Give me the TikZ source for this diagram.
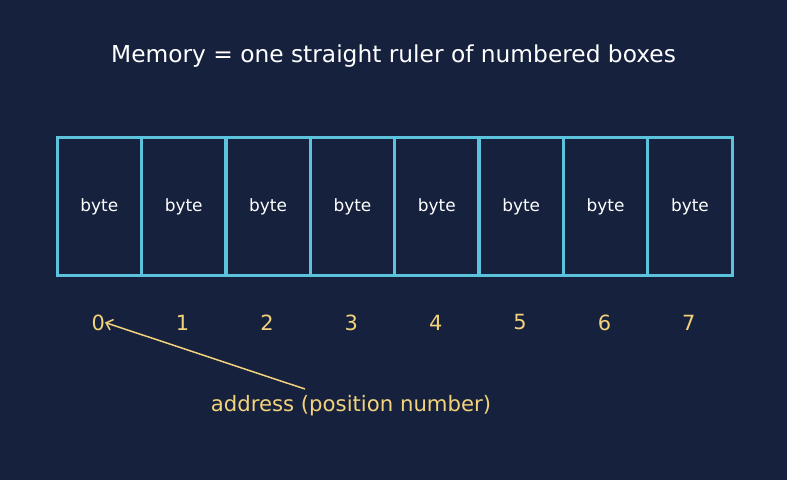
\documentclass[tikz,border=0pt]{standalone}
\usepackage{fontspec}
\setmainfont{DejaVu Sans}
\usetikzlibrary{arrows.meta}
\definecolor{bg}{HTML}{16213E}
\definecolor{cellline}{HTML}{5BC3DC}
\definecolor{numcol}{HTML}{F2D27A}
\tikzset{
  cell/.style={draw=cellline, line width=3.3bp, minimum width=84.375bp, minimum height=138bp, inner sep=0pt, anchor=north west, text=white, font=\fontsize{17}{20}\selectfont},
  num/.style={text=numcol, inner sep=0pt, font=\fontsize{21}{24}\selectfont},
  addrlabel/.style={text=numcol, inner sep=0pt, font=\fontsize{21.3}{24}\selectfont},
}
\begin{document}
\begin{tikzpicture}[x=1bp,y=-1bp]
\fill[bg] (0,0) rectangle (787,480);
\useasboundingbox (0,0) rectangle (787,480);
\node[text=white, inner sep=0pt, font=\fontsize{23.4}{28}\selectfont] (title) at (393.5,56.5) {Memory = one straight ruler of numbered boxes};
\foreach \i in {0,...,7} {
  \node[cell] (c\i) at ({55.5+84.375*\i},136) {byte};
  \node[num] (n\i) at ({98.2+84.375*\i},322.5) {\i};
}
\node[addrlabel] (addr) at (351,405.5) {address (position number)};
\draw[numcol, line width=1.5bp, -{Straight Barb[length=6bp,width=11bp]}] ([xshift=-46bp,yshift=6bp]addr.north) -- ([xshift=0pt]n0.east);
\end{tikzpicture}
\end{document}
